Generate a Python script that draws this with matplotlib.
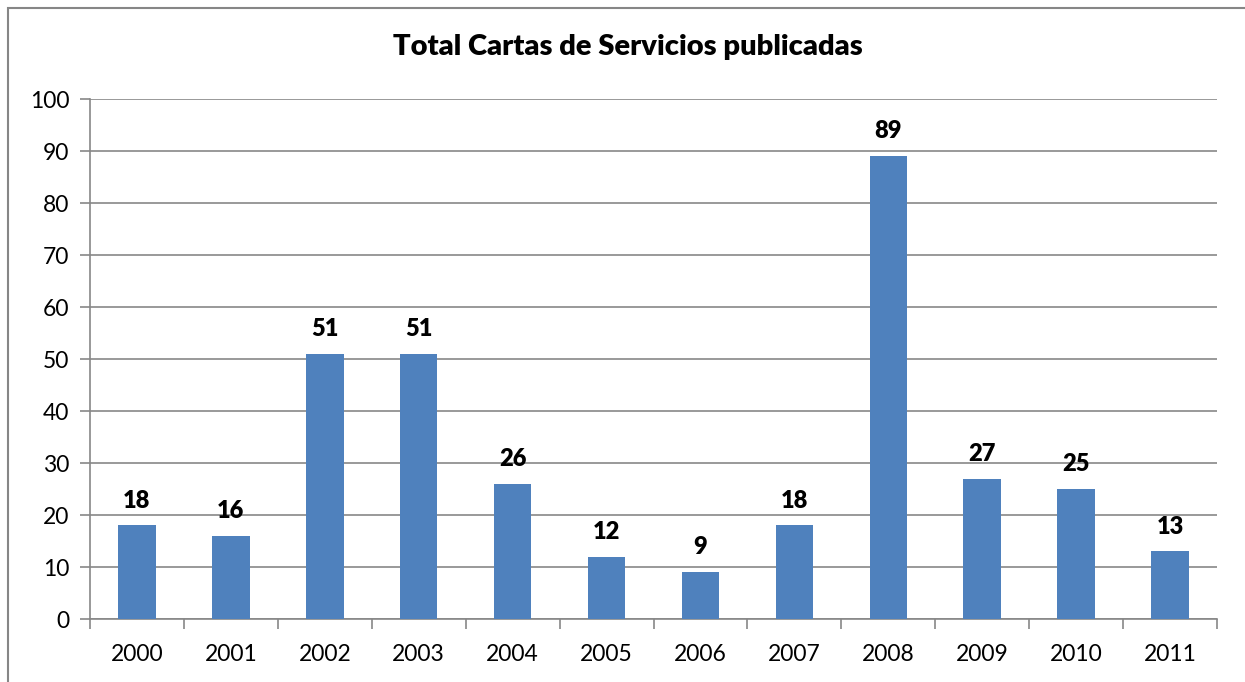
import matplotlib
matplotlib.use("Agg")
import matplotlib.pyplot as plt
from matplotlib.patches import Rectangle

years = ["2000", "2001", "2002", "2003", "2004", "2005", "2006", "2007", "2008", "2009", "2010", "2011"]
values = [18, 16, 51, 51, 26, 12, 9, 18, 89, 27, 25, 13]
yticks = [0, 10, 20, 30, 40, 50, 60, 70, 80, 90, 100]
title = "Total Cartas de Servicios publicadas"

plt.rcParams['font.family'] = ['Lato', 'DejaVu Sans']

W, H = 1245, 682
fig = plt.figure(figsize=(W / 100, H / 100), dpi=100)
fig.patch.set_facecolor("white")

# outer chart frame
fig.patches.append(Rectangle((8 / W, -0.01), 1.2, 1 - 8 / H + 0.01, transform=fig.transFigure,
                             fill=False, edgecolor="#868686", linewidth=1.5))

ax = fig.add_axes([90 / W, (H - 619) / H, (1217 - 90) / W, (619 - 99) / H])
grey = "#878787"
x = list(range(len(years)))
ax.bar(x, values, width=0.4, color="#4F81BD", zorder=3)
ax.set_xlim(-0.5, len(years) - 0.5)
ax.set_ylim(0, 100)
ax.set_yticks(yticks)
ax.set_xticks(x)
ax.set_xticklabels(years)
ax.set_xticks([i - 0.5 for i in range(len(years) + 1)], minor=True)
ax.tick_params(axis="x", which="major", length=0, pad=18, labelsize=16.5)
ax.tick_params(axis="x", which="minor", length=7, color=grey, width=1.2, direction="out")
ax.tick_params(axis="y", length=7, color=grey, width=1.2, pad=8, labelsize=16.5)
ax.grid(axis="y", color=grey, linewidth=1.2, zorder=0)
for s in ["top", "right"]:
    ax.spines[s].set_visible(False)
for s in ["left", "bottom"]:
    ax.spines[s].set_color(grey)
    ax.spines[s].set_linewidth(1.2)

for xi, v in zip(x, values):
    ax.annotate(str(v), (xi, v), xytext=(0, 10), textcoords="offset points",
                ha="center", va="bottom", fontsize=17, fontweight="heavy")

fig.text(628 / W, 1 - 47 / H, title, ha="center", va="center", fontsize=21, fontweight="heavy")

fig.savefig("out.png", dpi=100)
